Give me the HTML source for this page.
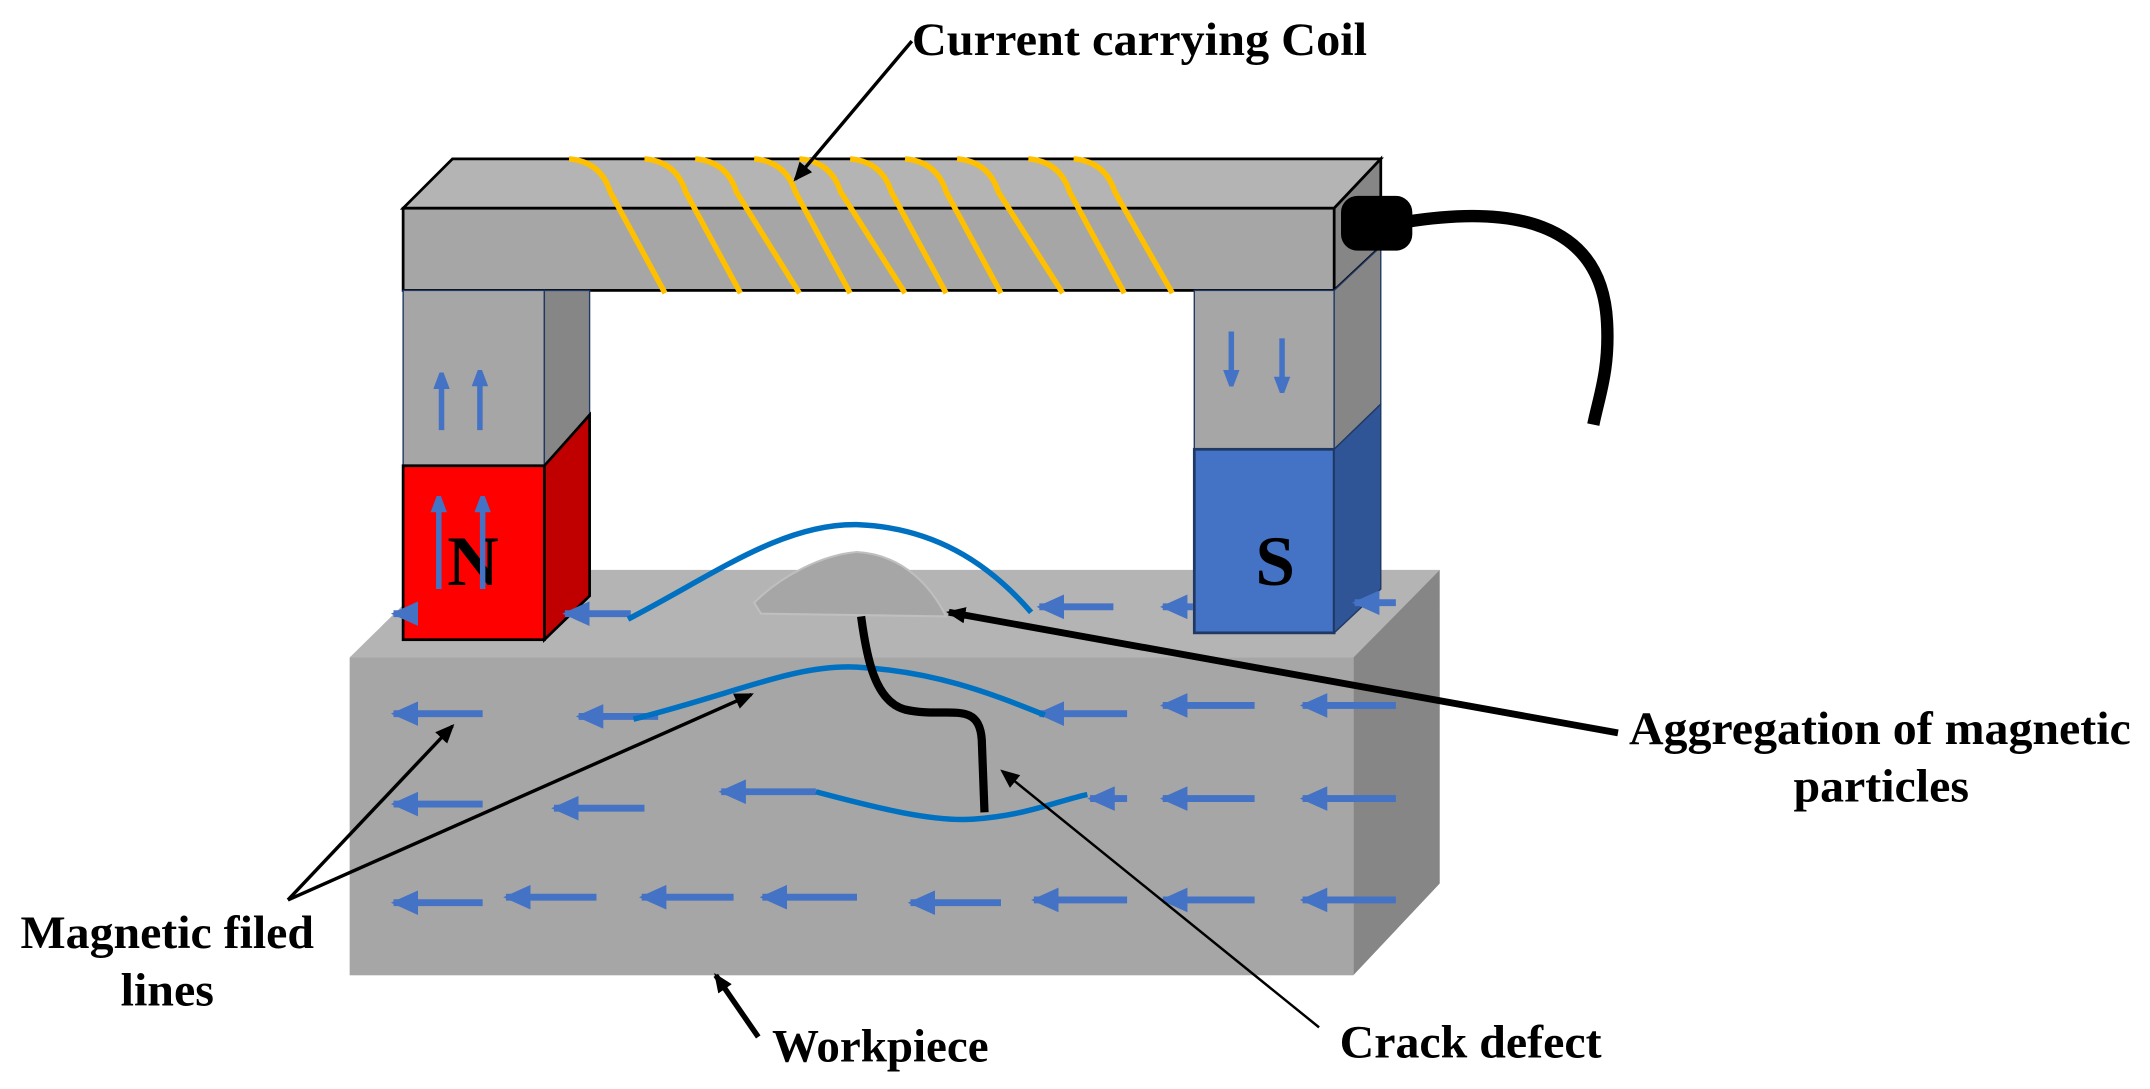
<!DOCTYPE html>
<html><head><style>html,body{margin:0;padding:0;background:#fff;overflow:hidden}svg{display:block}</style></head>
<body>
<svg width="2150" height="1089" viewBox="0 0 1568 795" preserveAspectRatio="none" xmlns="http://www.w3.org/2000/svg">
<defs>
<marker id="ab" markerWidth="12" markerHeight="16" refX="2" refY="6" orient="auto" markerUnits="userSpaceOnUse"><path d="M0,0 L16,6 L0,12 Z" fill="#4472c4"/></marker>
<marker id="ak" markerWidth="14" markerHeight="12" refX="12" refY="6" orient="auto" markerUnits="userSpaceOnUse"><path d="M0,0 L14,6 L0,12 Z" fill="#000"/></marker>
<marker id="ab2" markerWidth="20" markerHeight="18" refX="2" refY="9" orient="auto" markerUnits="userSpaceOnUse"><path d="M20,0 L0,9 L20,18 Z" fill="#4472c4"/></marker>
</defs>
<polygon points="255,480 320,416 1050,416 987,480" fill="#b4b4b4"/>
<polygon points="987,480 1050,416 1050,645 987,712" fill="#868686"/>
<rect x="255" y="480" width="732" height="232" fill="#a6a6a6"/>
<polygon points="294,152 330,116 1007,116 973,152" fill="#b4b4b4" stroke="#000" stroke-width="2"/>
<polygon points="973,152 1007,116 1007,180 973,212" fill="#868686" stroke="#000" stroke-width="2"/>
<rect x="294" y="152" width="679" height="60" fill="#a6a6a6" stroke="#000" stroke-width="2"/>
<rect x="294" y="212" width="103" height="128" fill="#a6a6a6" stroke="#1f3864" stroke-width="1"/>
<polygon points="397,212 430,212 430,302 397,340" fill="#868686" stroke="#1f3864" stroke-width="1"/>
<rect x="294" y="340" width="103" height="127" fill="#ff0000" stroke="#000" stroke-width="2"/>
<polygon points="397,340 430,303 430,435 397,467" fill="#c00000" stroke="#000" stroke-width="2"/>
<rect x="871" y="212" width="102" height="116" fill="#a6a6a6" stroke="#1f3864" stroke-width="1"/>
<polygon points="973,212 1007,180 1007,295 973,328" fill="#868686" stroke="#1f3864" stroke-width="1"/>
<rect x="871" y="328" width="102" height="134" fill="#4472c4" stroke="#1f3864" stroke-width="2"/>
<polygon points="973,328 1007,295 1007,430 973,462" fill="#2f5597" stroke="#1f3864" stroke-width="1"/>
<g fill="none" stroke="#ffc000" stroke-width="4">
<path d="M415,116 Q438,118 445,140 L485,214"/>
<path d="M470,116 Q493,118 500,140 L540,214"/>
<path d="M507,116 Q530,118 537,140 L583,214"/>
<path d="M550,116 Q573,118 580,140 L620,214"/>
<path d="M583,116 Q606,118 613,140 L660,214"/>
<path d="M620,116 Q643,118 650,140 L690,214"/>
<path d="M660,116 Q683,118 690,140 L730,214"/>
<path d="M698,116 Q721,118 728,140 L775,214"/>
<path d="M750,116 Q773,118 780,140 L820,214"/>
<path d="M783,116 Q806,118 813,140 L855,214"/>
</g>
<path d="M1025,162 C1100,150 1168,160 1172,235 C1174,270 1166,290 1162,310" fill="none" stroke="#000" stroke-width="9"/>
<rect x="978" y="143" width="52" height="40" rx="12" fill="#000"/>
<g stroke="#4472c4" stroke-width="4" marker-end="url(#ab)">
<line x1="322" y1="314" x2="322" y2="282"/>
<line x1="350" y1="314" x2="350" y2="280"/>
<line x1="898" y1="242" x2="898" y2="272"/>
<line x1="935" y1="247" x2="935" y2="277"/>
</g>
<text x="345" y="427" font-family="Liberation Serif,serif" font-weight="bold" font-size="52" text-anchor="middle">N</text>
<g stroke="#4472c4" stroke-width="4" marker-end="url(#ab)">
<line x1="320" y1="430" x2="320" y2="372"/>
<line x1="352" y1="430" x2="352" y2="372"/>
</g>
<text x="930" y="427" font-family="Liberation Serif,serif" font-weight="bold" font-size="52" text-anchor="middle">S</text>
<g stroke="#4472c4" stroke-width="5" marker-start="url(#ab2)">
<line x1="287" y1="448" x2="294" y2="448"/>
<line x1="412" y1="448" x2="460" y2="448"/>
<line x1="758" y1="443" x2="812" y2="443"/>
<line x1="848" y1="443" x2="870" y2="443"/>
<line x1="988" y1="440" x2="1018" y2="440"/>
<line x1="287" y1="521" x2="352" y2="521"/>
<line x1="422" y1="523" x2="480" y2="523"/>
<line x1="758" y1="521" x2="822" y2="521"/>
<line x1="848" y1="515" x2="915" y2="515"/>
<line x1="950" y1="515" x2="1018" y2="515"/>
<line x1="287" y1="587" x2="352" y2="587"/>
<line x1="404" y1="590" x2="470" y2="590"/>
<line x1="526" y1="578" x2="595" y2="578"/>
<line x1="795" y1="583" x2="822" y2="583"/>
<line x1="848" y1="583" x2="915" y2="583"/>
<line x1="950" y1="583" x2="1018" y2="583"/>
<line x1="287" y1="659" x2="352" y2="659"/>
<line x1="369" y1="655" x2="435" y2="655"/>
<line x1="468" y1="655" x2="535" y2="655"/>
<line x1="556" y1="655" x2="625" y2="655"/>
<line x1="664" y1="659" x2="730" y2="659"/>
<line x1="754" y1="657" x2="822" y2="657"/>
<line x1="848" y1="657" x2="915" y2="657"/>
<line x1="950" y1="657" x2="1018" y2="657"/>
</g>
<g fill="none" stroke="#0070c0" stroke-width="4">
<path d="M458,452 C520,420 570,382 625,383 C680,385 720,410 752,447"/>
<path d="M462,525 C540,505 580,485 625,487 C680,490 720,505 762,522"/>
<path d="M595,578 C640,590 680,600 710,598 C750,595 770,585 793,580"/>
</g>
<path d="M550,440 C570,420 600,405 625,403 C660,405 680,430 690,450 L555,448 Z" fill="#a6a6a6" stroke="#bfbfbf" stroke-width="1.5"/>
<path d="M628,450 C632,480 638,512 660,518 C690,525 714,510 716,540 L718,593" fill="none" stroke="#000" stroke-width="6"/>
<line x1="665" y1="30" x2="580" y2="131" stroke="#000" stroke-width="2.5" marker-end="url(#ak)"/>
<line x1="1180" y1="535" x2="692" y2="447" stroke="#000" stroke-width="5" marker-end="url(#ak)"/>
<line x1="210" y1="657" x2="330" y2="530" stroke="#000" stroke-width="2.5" marker-end="url(#ak)"/>
<line x1="210" y1="657" x2="548" y2="507" stroke="#000" stroke-width="2.5" marker-end="url(#ak)"/>
<line x1="553" y1="757" x2="522" y2="712" stroke="#000" stroke-width="4" marker-end="url(#ak)"/>
<line x1="962" y1="750" x2="731" y2="563" stroke="#000" stroke-width="1.8" marker-end="url(#ak)"/>
<g font-family="Liberation Serif,serif" font-weight="bold" font-size="34" fill="#000">
<text x="665" y="40" textLength="332" lengthAdjust="spacingAndGlyphs">Current carrying Coil</text>
<text x="1188" y="543" textLength="366" lengthAdjust="spacingAndGlyphs">Aggregation of magnetic</text>
<text x="1372" y="585" text-anchor="middle" textLength="128" lengthAdjust="spacingAndGlyphs">particles</text>
<text x="15" y="692" textLength="214" lengthAdjust="spacingAndGlyphs">Magnetic filed</text>
<text x="122" y="734" text-anchor="middle" textLength="68" lengthAdjust="spacingAndGlyphs">lines</text>
<text x="563" y="775" textLength="158" lengthAdjust="spacingAndGlyphs">Workpiece</text>
<text x="977" y="772" textLength="191" lengthAdjust="spacingAndGlyphs">Crack defect</text>
</g>
</svg>
</body></html>
